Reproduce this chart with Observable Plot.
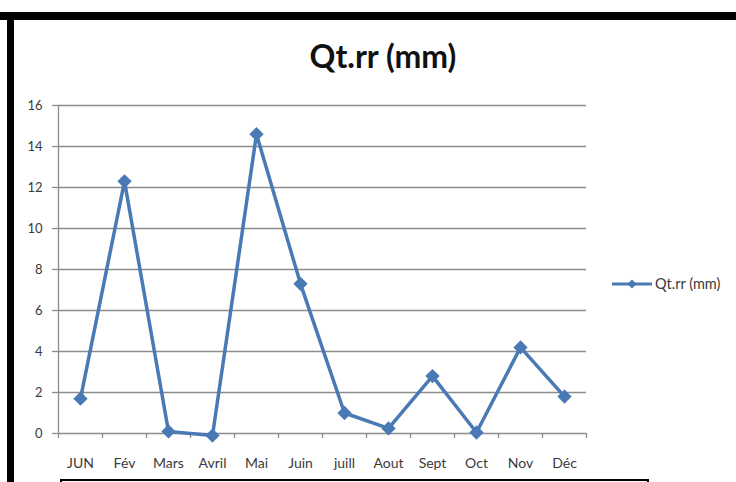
<!DOCTYPE html>
<html>
<head>
<meta charset="utf-8">
<script src="https://cdn.jsdelivr.net/npm/d3@7"></script>
<script src="https://cdn.jsdelivr.net/npm/@observablehq/plot@0.6"></script>
<style>
  html, body { margin: 0; padding: 0; background: #fff; }
  #wrap { position: relative; width: 736px; height: 482px; overflow: hidden; background: #fff; }
  #chart svg { position: absolute; left: 0; top: 0; }
  .bar { position: absolute; background: #000; }
  #title { position: absolute; left: 0; width: 766px; top: 36px; text-align: center;
    font-family: Lato, "Open Sans", sans-serif; font-weight: bold; font-size: 32px; color: #111; }
  #legend { position: absolute; left: 610px; top: 275px; display: flex; align-items: center;
    font-family: Lato, "Open Sans", sans-serif; font-size: 14.5px; color: #3a3a3a; }
</style>
</head>
<body>
<div id="wrap">
  <div id="chart"></div>
  <div class="bar" style="left:0;top:12px;width:736px;height:8px;"></div>
  <div class="bar" style="left:7px;top:12px;width:7px;height:470px;"></div>
  <div style="position:absolute;left:60px;top:479px;width:585px;height:10px;border:2px solid #000;"></div>
  <div id="title">Qt.rr (mm)</div>
  <div id="legend"></div>
</div>
<script>
const months = ["JUN", "Fév", "Mars", "Avril", "Mai", "Juin", "juill", "Aout", "Sept", "Oct", "Nov", "Déc"];
const values = [1.7, 12.3, 0.1, -0.1, 14.6, 7.3, 1.0, 0.25, 2.8, 0.05, 4.2, 1.8];
const yTicks = [0, 2, 4, 6, 8, 10, 12, 14, 16];
const seriesName = "Qt.rr (mm)";

const blue = "#4a7ab5";
const data = months.map((m, i) => ({month: m, pos: i + 0.5, value: values[i]}));
const boundaries = d3.range(months.length + 1);

const plot = Plot.plot({
  width: 736,
  height: 482,
  marginLeft: 58,
  marginRight: 150,
  marginTop: 105,
  marginBottom: 49,
  style: {fontFamily: "Lato, 'Open Sans', sans-serif", fontSize: "13px", color: "#3a3a3a", background: "transparent"},
  x: {type: "linear", domain: [0, months.length]},
  y: {type: "linear", domain: [0, 16]},
  marks: [
    Plot.gridY(yTicks, {stroke: "#8c8c8c", strokeOpacity: 1, strokeWidth: 1.3}),
    Plot.axisY(yTicks, {tickSize: 6, tickPadding: 10, stroke: "#8c8c8c", strokeWidth: 1.3, fill: "#3a3a3a", fontSize: 13, label: null}),
    Plot.ruleX([0], {stroke: "#8c8c8c", strokeWidth: 1.3}),
    Plot.axisX(boundaries, {tickSize: 5, tickFormat: () => "", stroke: "#8c8c8c", strokeWidth: 1.3, label: null}),
    Plot.text(data, {x: "pos", y: 0, text: "month", dy: 30, fill: "#3a3a3a", fontSize: 14}),
    Plot.line(data, {x: "pos", y: "value", stroke: blue, strokeWidth: 3.5}),
    Plot.dot(data, {x: "pos", y: "value", symbol: "diamond2", r: 5.5, fill: blue, stroke: blue})
  ]
});
document.getElementById("chart").appendChild(plot);

// legend
const leg = d3.select("#legend");
const ls = leg.append("svg").attr("width", 44).attr("height", 14);
ls.append("line").attr("x1", 2).attr("x2", 42).attr("y1", 7).attr("y2", 7).attr("stroke", blue).attr("stroke-width", 3);
ls.append("path").attr("d", d3.symbol(d3.symbolSquare, 40)()).attr("transform", "translate(22,7) rotate(45)").attr("fill", blue);
leg.append("span").text(seriesName).style("margin-left", "1px");
</script>
</body>
</html>
